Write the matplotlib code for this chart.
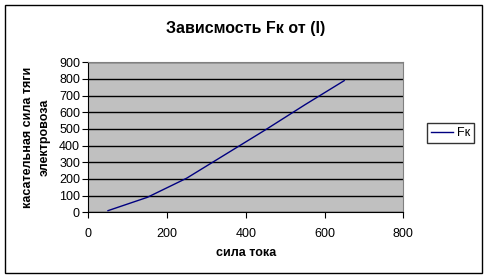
import matplotlib
matplotlib.use("Agg")
import matplotlib.pyplot as plt
from matplotlib.patches import Rectangle

# ── Data ──────────────────────────────────────────────────────────────────────
current = [50, 150, 250, 350, 450, 550, 650]      # сила тока
force = [10, 90, 205, 350, 495, 645, 790]         # касательная сила тяги
x_ticks = [0, 200, 400, 600, 800]
y_ticks = [0, 100, 200, 300, 400, 500, 600, 700, 800, 900]

plt.rcParams["font.family"] = ["Liberation Sans", "DejaVu Sans"]

fig = plt.figure(figsize=(4.89, 2.79), dpi=100)
ax = fig.add_axes([0.1806, 0.239, 0.6441, 0.5377])

# outer chart border
fig.patches.append(Rectangle((5.3 / 489, 1 - 272.7 / 279), 477 / 489, 267.4 / 279,
                             transform=fig.transFigure, fill=False,
                             edgecolor="black", linewidth=1.0))

ax.set_facecolor("#c0c0c0")
ax.plot(current, force, color="#000080", linewidth=1.0, label="Fк")

ax.set_xlim(0, 800)
ax.set_ylim(0, 900)
ax.set_xticks(x_ticks)
ax.set_yticks(y_ticks)
ax.tick_params(labelsize=9, length=4, direction="out", width=0.8)
ax.tick_params(axis="x", pad=7)
ax.tick_params(axis="y", pad=2)
ax.grid(axis="y", color="black", linewidth=1.0)
ax.set_axisbelow(True)

for side in ["top", "right"]:
    ax.spines[side].set_color("#808080")
for side in ["left", "bottom"]:
    ax.spines[side].set_color("black")

ax.set_title("Зависмость Fк от (I)", fontsize=11.5, fontweight="bold", pad=21)
ax.set_xlabel("сила тока", fontsize=9, fontweight="bold", labelpad=5)
ax.set_ylabel("касательная сила тяги\nэлектровоза", fontsize=9,
              fontweight="bold", labelpad=6, linespacing=1.5)

leg = fig.legend(loc="center left", bbox_to_anchor=(427 / 489, 1 - 133 / 279),
                 fontsize=9, frameon=True, fancybox=False, handlelength=1.8,
                 borderpad=0.3, handletextpad=0.3, borderaxespad=0)
leg.get_frame().set_edgecolor("black")
leg.get_frame().set_linewidth(1.0)

plt.savefig("out.png", dpi=100)
plt.close()
